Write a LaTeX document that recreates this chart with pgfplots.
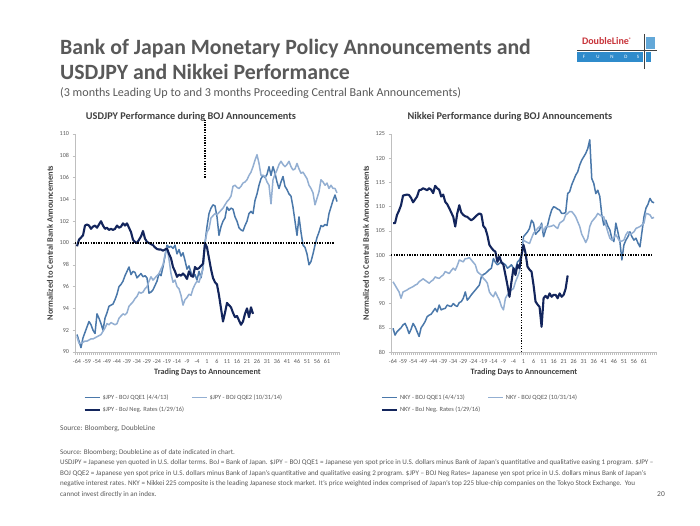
\documentclass[border=0pt]{standalone}
\usepackage{pgfplots}
\pgfplotsset{compat=1.18}
\usepackage{fontspec}
\setmainfont{Carlito}
\definecolor{qqeone}{HTML}{4A78AA}
\definecolor{qqetwo}{HTML}{93AFD2}
\definecolor{negr}{HTML}{13255C}
\definecolor{titlegrey}{HTML}{595959}
\definecolor{labgrey}{HTML}{404040}
\definecolor{axgrey}{HTML}{BFBFBF}
\definecolor{dlred}{HTML}{C8343A}
\definecolor{dlblue}{HTML}{2F8BCB}

\pgfplotsset{
  chartstyle/.style={
    scale only axis, width=265pt, height=218pt,
    xmin=-65, xmax=67.5,
    axis x line*=bottom, axis y line*=left,
    axis line style={draw=axgrey, line width=0.6pt},
    xtick={-64,-59,...,61},
    minor xtick={-65,-64,...,67},
    tick align=outside,
    major tick length=2.5pt, minor tick length=2.5pt,
    tick style={draw=axgrey, line width=0.5pt},
    ticklabel style={font=\fontsize{6.1}{7}\selectfont, text=titlegrey},
    xticklabel style={text height=1.6ex, text depth=0.2ex, inner sep=1pt},
    /pgf/number format/assume math mode=true,
    xlabel={Trading Days to Announcement},
    ylabel={Normalized to Central Bank Announcements},
    label style={font=\bfseries\fontsize{8.4}{9}\selectfont, text=labgrey},
    xlabel style={font=\bfseries\fontsize{8.2}{9}\selectfont},
    clip=false,
    legend columns=2,
    legend cell align=left,
    legend style={draw=none, fill=none, font=\fontsize{6.4}{7}\selectfont, text=titlegrey,
      anchor=north west, /tikz/every even column/.append style={column sep=5pt}, row sep=2pt},
    legend image code/.code={\draw[##1] (0pt,0pt) -- (15pt,0pt);},
  },
  s1/.style={draw=qqeone, line width=1.5pt, line join=round},
  s2/.style={draw=qqetwo, line width=1.5pt, line join=round},
  s3/.style={draw=negr, line width=2.1pt, line join=round},
  dotl/.style={draw=black, line width=1.4pt, dash pattern=on 1.3pt off 1.3pt},
}

\begin{document}
\begin{tikzpicture}[x=1pt,y=1pt]
\path[use as bounding box, fill=white] (0,0) rectangle (700,525);

% titles
\node[anchor=base west, inner sep=0, font=\bfseries\fontsize{21.8}{24}\selectfont, text=titlegrey] at (60,470) {Bank of Japan Monetary Policy Announcements and};
\node[anchor=base west, inner sep=0, font=\bfseries\fontsize{21.8}{24}\selectfont, text=titlegrey] at (60,445) {USDJPY and Nikkei Performance};
\node[anchor=base west, inner sep=0, font=\fontsize{12.1}{14}\selectfont, text=titlegrey] at (60,428) {(3 months Leading Up to and 3 months Proceeding Central Bank Announcements)};

% logo
\node[anchor=base, inner sep=0, font=\bfseries\fontsize{10}{12}\selectfont, text=dlred] at (607,480) {DoubleLine\textsuperscript{\tiny\textregistered}};
\fill[dlblue] (577,463) rectangle (643,472.5);
\foreach \xx/\ll in {584/F,598/U,612/N,626/D,638/S}
  \node[inner sep=0, font=\fontsize{5}{6}\selectfont, text=white] at (\xx,467.7) {\ll};
\fill[dlblue!75] (646,475.5) rectangle (655,488);
\fill[dlblue] (646,463) rectangle (651,472.5);
\draw[black!75, line width=0.8pt] (577,474.5) -- (657,474.5);
\draw[black!75, line width=0.8pt] (644.5,491) -- (644.5,456);

% chart titles
\node[font=\bfseries\fontsize{10.3}{12}\selectfont, text=labgrey] at (191,408) {USDJPY Performance during BOJ Announcements};
\node[font=\bfseries\fontsize{10.3}{12}\selectfont, text=labgrey] at (510,408) {Nikkei Performance during BOJ Announcements};

% left chart
\begin{axis}[chartstyle, at={(75pt,173pt)}, anchor=south west,
  ymin=90, ymax=110, ytick={90,92,...,110},
  legend style={at={(0.02,-0.175)}}]
\addplot[s1] coordinates {(-64,91.6) (-63,91.0) (-62,90.4) (-61,91.3) (-60,91.8) (-59,92.3) (-58,92.8) (-57,92.5) (-56,92.0) (-55,91.7) (-54,93.5) (-53,93.1) (-52,92.6) (-51,92.0) (-50,93.1) (-49,93.6) (-48,94.2) (-47,94.3) (-46,94.4) (-45,94.8) (-44,95.3) (-43,96.0) (-42,96.2) (-41,96.5) (-40,97.0) (-39,97.4) (-38,97.8) (-37,97.1) (-36,97.4) (-35,97.3) (-34,96.8) (-33,97.0) (-32,97.2) (-31,96.9) (-30,97.0) (-29,96.8) (-28,95.4) (-27,95.5) (-26,95.7) (-25,96.1) (-24,96.5) (-23,97.2) (-22,97.0) (-21,97.8) (-20,98.8) (-19,99.8) (-18,99.6) (-17,99.7) (-16,99.5) (-15,99.8) (-14,99.0) (-13,99.4) (-12,98.8) (-11,99.1) (-10,98.4) (-9,97.6) (-8,97.9) (-7,97.3) (-6,96.9) (-5,97.1) (-4,96.6) (-3,97.4) (-2,96.8) (-1,97.8) (0,100)
(1,101.5) (2,102.7) (3,103.2) (4,103.5) (5,103.4) (6,102.4) (7,100.7) (8,101.5) (9,102.0) (10,102.3) (11,103.3) (12,103.0) (13,103.2) (14,103.1) (15,102.4) (16,102.0) (17,101.4) (18,101.2) (19,101.1) (20,101.6) (21,102.0) (22,102.7) (23,102.9) (24,102.7) (25,103.9) (26,104.5) (27,105.3) (28,105.9) (29,106.2) (30,106.0) (31,106.3) (32,107.0) (33,106.2) (34,107.0) (35,106.4) (36,105.6) (37,105.0) (38,105.6) (39,106.1) (40,105.2) (41,104.9) (42,104.5) (43,104.3) (44,103.3) (45,102.0) (46,100.7) (47,102.4) (48,101.0) (49,99.8) (50,99.6) (51,99.0) (52,98.0) (53,98.3) (54,99.0) (55,99.8) (56,100.5) (57,101.0) (58,101.6) (59,101.5) (60,101.7) (61,101.6) (62,102.7) (63,103.3) (64,103.9) (65,104.4) (66,103.8)};
\addlegendentry{\$JPY - BOJ QQE1 (4/4/13)}
\addplot[s2] coordinates {(-64,91.4) (-63,90.8) (-62,90.8) (-61,90.9) (-60,91.0) (-59,91.0) (-58,91.1) (-57,91.2) (-56,91.2) (-55,91.3) (-54,91.4) (-53,91.5) (-52,91.6) (-51,91.9) (-50,92.2) (-49,92.6) (-48,92.5) (-47,92.7) (-46,92.6) (-45,92.5) (-44,92.6) (-43,93.1) (-42,93.3) (-41,93.5) (-40,93.4) (-39,93.6) (-38,94.2) (-37,94.4) (-36,94.6) (-35,94.9) (-34,95.1) (-33,95.5) (-32,95.4) (-31,95.5) (-30,95.8) (-29,96.0) (-28,96.5) (-27,96.9) (-26,96.6) (-25,96.8) (-24,97.0) (-23,97.2) (-22,97.6) (-21,98.0) (-20,98.9) (-19,99.6) (-18,98.5) (-17,97.2) (-16,96.4) (-15,96.6) (-14,96.0) (-13,95.8) (-12,95.2) (-11,94.3) (-10,94.8) (-9,95.0) (-8,95.3) (-7,95.2) (-6,95.8) (-5,96.2) (-4,96.5) (-3,96.4) (-2,97.0) (-1,97.6) (0,100)
(1,101.0) (2,101.3) (3,102.3) (4,102.5) (5,102.7) (6,102.6) (7,102.8) (8,103.0) (9,103.2) (10,103.5) (11,103.8) (12,104.0) (13,104.3) (14,105.2) (15,105.3) (16,105.1) (17,105.0) (18,105.2) (19,105.5) (20,105.6) (21,105.8) (22,106.2) (23,106.5) (24,107.0) (25,107.6) (26,108.1) (27,107.3) (28,106.2) (29,106.2) (30,106.1) (31,105.6) (32,105.3) (33,103.6) (34,105.8) (35,106.3) (36,106.7) (37,107.2) (38,107.5) (39,107.2) (40,107.0) (41,107.2) (42,107.5) (43,107.0) (44,106.7) (45,106.8) (46,107.3) (47,106.8) (48,106.4) (49,106.5) (50,106.2) (51,105.9) (52,105.3) (53,105.0) (54,104.6) (55,103.5) (56,104.1) (57,104.7) (58,105.8) (59,105.6) (60,105.3) (61,105.5) (62,105.0) (63,105.3) (64,105.0) (65,105.0) (66,104.6)};
\addlegendentry{\$JPY - BOJ QQE2 (10/31/14)}
\addplot[s3] coordinates {(-64,99.7) (-63,100.3) (-62,100.5) (-61,100.7) (-60,101.6) (-59,101.7) (-58,101.6) (-57,101.3) (-56,101.5) (-55,101.6) (-54,101.4) (-53,101.7) (-52,102.0) (-51,101.6) (-50,101.3) (-49,101.4) (-48,101.2) (-47,101.3) (-46,101.2) (-45,101.3) (-44,101.6) (-43,101.4) (-42,101.5) (-41,101.8) (-40,101.6) (-39,101.8) (-38,101.4) (-37,101.0) (-36,100.3) (-35,100.1) (-34,100.0) (-33,100.3) (-32,100.6) (-31,101.1) (-30,100.4) (-29,100.1) (-28,100.0) (-27,99.9) (-26,99.8) (-25,99.6) (-24,99.45) (-23,99.4) (-22,99.4) (-21,99.3) (-20,99.4) (-19,99.5) (-18,99.0) (-17,98.6) (-16,97.8) (-15,97.4) (-14,96.9) (-13,97.1) (-12,97.0) (-11,97.2) (-10,97.0) (-9,96.7) (-8,97.4) (-7,97.0) (-6,96.9) (-5,97.8) (-4,97.6) (-3,97.7) (-2,97.9) (-1,98.1) (0,100.0) (1,99.6) (2,98.6) (3,97.6) (4,96.8) (5,96.4) (6,96.2) (7,95.2) (8,94.0) (9,92.8) (10,93.6) (11,94.5) (12,94.3) (13,94.1) (14,93.6) (15,93.2) (16,93.3) (17,92.9) (18,92.5) (19,92.8) (20,93.5) (21,94.0) (22,93.2) (23,94.1) (24,93.5)};
\addlegendentry{\$JPY - BoJ Neg. Rates (1/29/16)}
\addplot[dotl, forget plot] coordinates {(-65,100) (65,100)};
\addplot[dotl, forget plot] coordinates {(0,106) (0,111.3)};
\end{axis}

% right chart
\begin{axis}[chartstyle, at={(391pt,173pt)}, anchor=south west, width=266pt,
  ymin=80, ymax=125, ytick={80,85,...,125},
  legend style={at={(-0.05,-0.175)}}]
\addplot[s1] coordinates {(-64,84.9) (-63,83.5) (-62,84.2) (-61,84.6) (-60,85.0) (-59,85.6) (-58,85.9) (-57,85.0) (-56,83.8) (-55,84.7) (-54,85.9) (-53,85.2) (-52,84.2) (-51,83.2) (-50,85.0) (-49,85.6) (-48,86.3) (-47,87.3) (-46,87.6) (-45,87.8) (-44,88.4) (-43,89.0) (-42,88.3) (-41,89.7) (-40,88.7) (-39,88.9) (-38,89.0) (-37,89.7) (-36,89.5) (-35,89.4) (-34,90.0) (-33,89.6) (-32,89.4) (-31,90.2) (-30,90.4) (-29,91.1) (-28,92.4) (-27,90.7) (-26,91.2) (-25,91.8) (-24,92.3) (-23,92.8) (-22,93.3) (-21,93.8) (-20,95.5) (-19,96.0) (-18,96.2) (-17,96.6) (-16,97.0) (-15,97.3) (-14,99.3) (-13,98.5) (-12,98.0) (-11,98.3) (-10,98.6) (-9,98.3) (-8,98.0) (-7,97.3) (-6,97.6) (-5,98.0) (-4,97.3) (-3,97.0) (-2,98.6) (-1,99.0) (0,100)
(1,103.8) (2,104.3) (3,104.8) (4,105.5) (5,107.2) (6,106.6) (7,104.3) (8,104.8) (9,105.2) (10,106.6) (11,103.8) (12,105.2) (13,106.2) (14,107.9) (15,109.3) (16,110.0) (17,109.8) (18,109.5) (19,109.3) (20,108.6) (21,108.6) (22,108.8) (23,112.7) (24,113.1) (25,114.5) (26,115.5) (27,116.5) (28,117.2) (29,118.6) (30,119.6) (31,120.3) (32,121.0) (33,122.0) (34,123.8) (35,115.8) (36,114.8) (37,112.7) (38,113.4) (39,112.1) (40,108.3) (41,106.2) (42,107.2) (43,106.0) (44,105.2) (45,103.5) (46,102.8) (47,106.6) (48,104.8) (49,102.8) (50,99.0) (51,102.1) (52,103.1) (53,103.8) (54,104.8) (55,103.8) (56,103.1) (57,103.5) (58,102.5) (59,101.7) (60,104.8) (61,107.9) (62,109.7) (63,110.5) (64,111.7) (65,111.0) (66,110.8)};
\addlegendentry{NKY - BOJ QQE1 (4/4/13)}
\addplot[s2] coordinates {(-64,94.5) (-63,93.8) (-62,93.1) (-61,92.4) (-60,91.1) (-59,92.4) (-58,92.6) (-57,92.8) (-56,93.1) (-55,93.3) (-54,93.5) (-53,93.8) (-52,94.0) (-51,94.5) (-50,94.8) (-49,95.1) (-48,94.8) (-47,94.5) (-46,94.2) (-45,94.6) (-44,94.9) (-43,95.5) (-42,95.3) (-41,95.2) (-40,95.6) (-39,95.9) (-38,96.6) (-37,96.4) (-36,96.2) (-35,96.8) (-34,97.3) (-33,96.9) (-32,97.8) (-31,99.0) (-30,98.8) (-29,98.6) (-28,99.3) (-27,99.3) (-26,99.5) (-25,99.0) (-24,98.5) (-23,98.0) (-22,96.6) (-21,96.2) (-20,95.9) (-19,95.2) (-18,94.8) (-17,94.2) (-16,92.4) (-15,91.8) (-14,91.4) (-13,92.4) (-12,91.5) (-11,90.7) (-10,89.4) (-9,88.7) (-8,91.1) (-7,91.8) (-6,92.4) (-5,92.8) (-4,93.1) (-3,94.5) (-2,95.5) (-1,96.6) (0,100)
(1,103.1) (2,102.8) (3,102.6) (4,102.4) (5,103.5) (6,104.5) (7,105.0) (8,105.5) (9,105.9) (10,106.2) (11,104.8) (12,105.9) (13,105.9) (14,105.9) (15,106.0) (16,106.2) (17,105.8) (18,105.5) (19,106.6) (20,106.9) (21,107.2) (22,108.3) (23,108.6) (24,109.0) (25,109.0) (26,108.5) (27,107.9) (28,106.9) (29,105.9) (30,104.3) (31,103.5) (32,102.6) (33,103.5) (34,105.9) (35,106.9) (36,107.4) (37,107.9) (38,108.6) (39,108.3) (40,108.0) (41,107.9) (42,106.2) (43,104.8) (44,103.5) (45,103.1) (46,103.6) (47,104.2) (48,103.5) (49,102.8) (50,102.9) (51,103.1) (52,104.2) (53,104.8) (54,104.2) (55,104.5) (56,104.8) (57,105.5) (58,105.7) (59,105.9) (60,106.2) (61,106.6) (62,108.6) (63,108.5) (64,108.3) (65,107.6) (66,107.8)};
\addlegendentry{NKY - BOJ QQE2 (10/31/14)}
\addplot[s3] coordinates {(-64,106.6) (-63,106.6) (-62,108.3) (-61,109.2) (-60,110.3) (-59,112.3) (-58,112.4) (-57,112.5) (-56,112.4) (-55,111.8) (-54,110.9) (-53,111.5) (-52,112.1) (-51,113.4) (-50,113.5) (-49,113.8) (-48,113.6) (-47,113.4) (-46,113.8) (-45,113.5) (-44,112.8) (-43,114.3) (-42,113.8) (-41,113.5) (-40,112.1) (-39,112.5) (-38,111.0) (-37,110.5) (-36,109.7) (-35,108.8) (-34,107.9) (-33,105.9) (-32,108.6) (-31,110.3) (-30,108.8) (-29,108.3) (-28,108.0) (-27,107.9) (-26,107.5) (-25,107.2) (-24,107.5) (-23,107.9) (-22,108.3) (-21,108.6) (-20,108.4) (-19,106.0) (-18,105.5) (-17,104.1) (-16,102.1) (-15,101.5) (-14,101.0) (-13,100.7) (-12,98.6) (-11,99.7) (-10,98.5) (-9,98.0) (-8,95.9) (-7,93.8) (-6,91.4) (-5,94.5) (-4,97.3) (-3,95.9) (-2,98.0) (-1,97.3) (0,100.0) (1,102.1) (2,100.4) (3,97.6) (4,97.0) (5,96.6) (6,93.8) (7,90.4) (8,89.8) (9,89.3) (10,85.2) (11,91.1) (12,91.6) (13,91.1) (14,92.1) (15,91.4) (16,91.8) (17,91.8) (18,91.1) (19,92.1) (20,91.4) (21,91.8) (22,93.1) (23,95.8)};
\addlegendentry{NKY - BoJ Neg. Rates (1/29/16)}
\addplot[dotl, forget plot] coordinates {(-65,100) (65,100)};
\addplot[dotl, forget plot] coordinates {(0,80) (0,104)};
\end{axis}

% source and footnotes
\node[anchor=base west, inner sep=0, font=\fontsize{7.4}{8}\selectfont, text=titlegrey] at (60,95) {Source: Bloomberg, DoubleLine};
\begin{scope}[every node/.style={anchor=base west, inner sep=0, font=\fontsize{7.1}{8}\selectfont, text=titlegrey}]
\node at (60,71) {Source: Bloomberg; DoubleLine as of date indicated in chart.};
\node at (60,60.5) {USDJPY = Japanese yen quoted in U.S. dollar terms. BoJ = Bank of Japan. \$JPY -- BOJ QQE1 = Japanese yen spot price in U.S. dollars minus Bank of Japan's quantitative and qualitative easing 1 program. \$JPY --};
\node at (60,50) {BOJ QQE2 = Japanese yen spot price in U.S. dollars minus Bank of Japan's quantitative and qualitative easing 2 program. \$JPY -- BOJ Neg Rates= Japanese yen spot price in U.S. dollars minus Bank of Japan's};
\node at (60,39.5) {negative interest rates. NKY = Nikkei 225 composite is the leading Japanese stock market. It's price weighted index comprised of Japan's top 225 blue-chip companies on the Tokyo Stock Exchange.\ \ You};
\node at (60,29) {cannot invest directly in an index.};
\end{scope}
\node[anchor=base east, inner sep=0, font=\fontsize{7.5}{8}\selectfont, text=titlegrey] at (665,29) {20};
\end{tikzpicture}
\end{document}
